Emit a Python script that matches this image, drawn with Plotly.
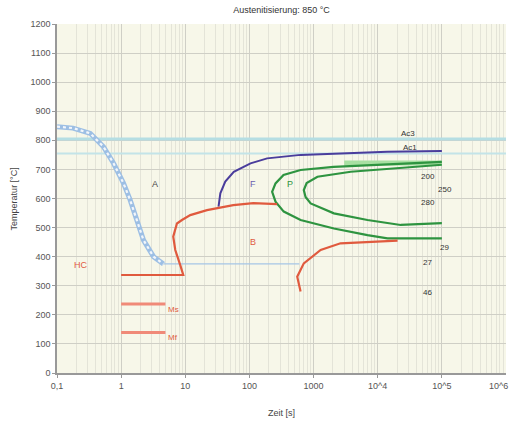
import math
import plotly.graph_objects as go

# ---- data ----
x_tickvals = [0.1, 1, 10, 100, 1000, 1e4, 1e5]
x_ticktext = ["0,1", "1", "10", "100", "1000", "10^4", "10^5"]
x_last_tick = 1e6
x_last_text = "10^6"
y_tickvals = list(range(0, 1201, 100))

ac3_T = 805
ac1_T = 755

cool_t = [0.1, 0.178, 0.33, 0.53, 0.76, 1.09, 1.38, 1.76, 2.23, 3.2, 4.57, 600]
cool_T = [847, 842, 824, 778, 721, 652, 595, 526, 457, 400, 375, 375]

bs_t = [1, 9.3, 9.3, 8.35, 6.98, 6.49, 7.41, 8.87, 11.97, 21.8, 56, 115, 270]
bs_T = [337, 337, 337, 371, 423, 469, 514, 526, 543, 560, 577, 584, 581]

fs_t = [33, 35.2, 42, 57, 104, 189, 627, 3365, 14100, 100000]
fs_T = [572, 618, 658, 692, 721, 738, 750, 755, 761, 763]

ps_t = [100000, 11100, 2050, 627, 340, 255, 226, 255, 343, 627, 2075, 6920, 14200, 100000]
ps_T = [726, 715, 709, 698, 681, 652, 623, 589, 555, 526, 497, 474, 463, 463]

pf_t = [100000, 22800, 3800, 1150, 780, 704, 750, 900, 2075, 6920, 22800, 100000]
pf_T = [716, 704, 692, 675, 653, 629, 605, 583, 549, 526, 509, 515]

be_t = [20400, 6920, 2630, 1290, 704, 556, 627]
be_T = [455, 451, 446, 423, 377, 331, 280]

ms_t = [1, 4.9]
ms_T = [237, 237]
mf_t = [1, 4.9]
mf_T = [139, 139]

phase_labels = ["A", "F", "P", "B", "HC"]
phase_t = [10 ** 0.53, 115, 436, 115, 0.237]
phase_T = [650, 650, 650, 450, 371]

hard_labels = ["200", "250", "280", "29", "27", "46"]
hard_t = [60000, 110000, 60000, 110000, 60000, 60000]
hard_T = [675, 630, 585, 433, 380, 277]

fig = go.Figure()

def line(x, y, color, width, dash=None):
    fig.add_trace(go.Scatter(x=x, y=y, mode="lines",
                             line=dict(color=color, width=width, dash=dash),
                             hoverinfo="skip", showlegend=False))

# Ac lines
line([0.1, 1e6], [ac3_T, ac3_T], "#B5DEE3", 3)
line([0.1, 1e6], [ac1_T, ac1_T], "#C3E4E8", 2)

# cooling band
line(cool_t[:-1], cool_T[:-1], "#9DBFE4", 5)
line(cool_t[:-1], cool_T[:-1], "#F2F6FB", 2.2, "dot")
line(cool_t[-2:], cool_T[-2:], "#A6C6E6", 1.2)

# ferrite start
line(fs_t, fs_T, "#4A3D9C", 2)
# pearlite
line([3000, 100000], [722, 722], "#A8E0A2", 5)
line(ps_t, ps_T, "#2E9440", 2.2)
line(pf_t, pf_T, "#2E9440", 2.2)
# bainite
line(bs_t, bs_T, "#E05A3E", 2.2)
line(be_t, be_T, "#E05A3E", 2.2)
# Ms / Mf
line(ms_t, ms_T, "#F08A78", 3)
line(mf_t, mf_T, "#F08A78", 3)

anns = []
colmap = {"A": "#444444", "F": "#6B5EB0", "P": "#2E9440", "B": "#E05A3E", "HC": "#E05A3E"}
for lab, t, T in zip(phase_labels, phase_t, phase_T):
    anns.append(dict(x=math.log10(t), y=T, text=lab, showarrow=False,
                     font=dict(size=9, color=colmap[lab])))
for lab, t, T in zip(hard_labels, hard_t, hard_T):
    anns.append(dict(x=math.log10(t), y=T, text=lab, showarrow=False,
                     font=dict(size=8, color="#333333")))
anns += [
    dict(x=math.log10(30000), y=823, text="Ac3", showarrow=False, font=dict(size=8, color="#333333")),
    dict(x=math.log10(32000), y=776, text="Ac1", showarrow=False, font=dict(size=8, color="#333333")),
    dict(x=math.log10(6.5), y=220, text="Ms", showarrow=False, font=dict(size=8, color="#E05A3E")),
    dict(x=math.log10(6.5), y=122, text="Mf", showarrow=False, font=dict(size=8, color="#E05A3E")),
    dict(x=math.log10(x_last_tick), xref="x", yref="paper", y=-0.037, text=x_last_text,
         showarrow=False, xanchor="right", xshift=4, yanchor="middle",
         font=dict(size=9, color="#555555")),
    dict(xref="paper", yref="paper", x=-0.096, y=0.5, text="Temperatur [°C]", textangle=-90,
         showarrow=False, xanchor="center", yanchor="middle", font=dict(size=9, color="#444444")),
    dict(xref="paper", yref="paper", x=0.5, y=-0.115, text="Zeit [s]",
         showarrow=False, xanchor="center", yanchor="middle", font=dict(size=9, color="#444444")),
]

fig.update_layout(
    width=511, height=423,
    margin=dict(l=57, r=5, t=24, b=50),
    paper_bgcolor="white",
    plot_bgcolor="#F7F7E9",
    font=dict(family="Liberation Sans, Arial", size=9, color="#444444"),
    title=dict(text="Austenitisierung: 850 °C", x=0.5, xref="paper", xanchor="center",
               y=0.977, yanchor="middle", font=dict(size=9, color="#333333")),
    annotations=anns,
    showlegend=False,
)
fig.update_xaxes(type="log", range=[-1, 6], tickvals=x_tickvals, ticktext=x_ticktext,
                 showgrid=True, gridcolor="#CFCFC6", gridwidth=1,
                 minor=dict(dtick="D1", showgrid=True, gridcolor="#E4E4D8", gridwidth=1),
                 showline=True, linecolor="#999999", linewidth=1.5,
                 ticks="outside", ticklen=3, tickcolor="#999999",
                 tickfont=dict(size=9, color="#555555"),
                 zeroline=False)
fig.update_yaxes(range=[0, 1200], tickvals=y_tickvals,
                 showgrid=True, gridcolor="#CFCFC6", gridwidth=1,
                 showline=True, linecolor="#999999", linewidth=1.5,
                 ticks="outside", ticklen=3, tickcolor="#999999",
                 tickfont=dict(size=9, color="#555555"),
                 zeroline=False)

fig.write_html("out.html", config={"displayModeBar": False},
               post_script="document.body.style.margin='0';")
